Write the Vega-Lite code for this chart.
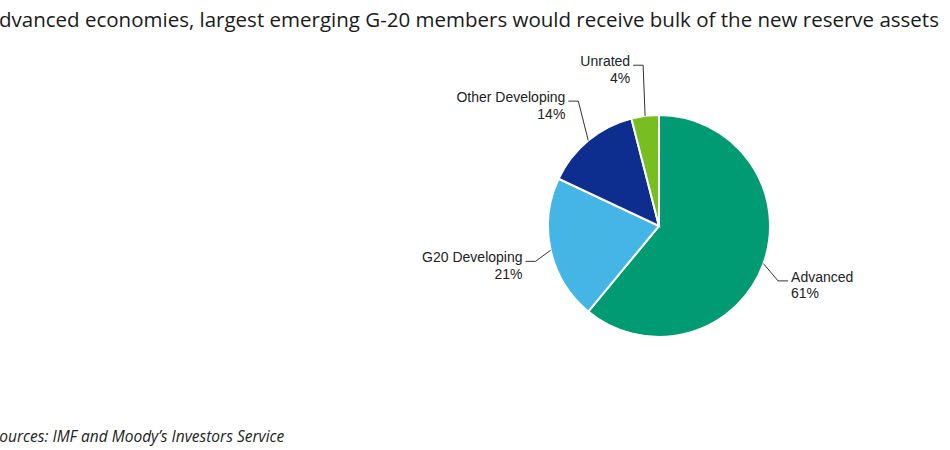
{
  "$schema": "https://vega.github.io/schema/vega-lite/v6.json",
  "width": 582,
  "height": 372,
  "autosize": {"type": "none"},
  "padding": {"left": 368, "top": 40, "right": 0, "bottom": 38},
  "background": "white",
  "title": {
    "text": "Advanced economies, largest emerging G-20 members would receive bulk of the new reserve assets",
    "anchor": "start",
    "frame": "group",
    "dx": -382,
    "offset": -7,
    "baseline": "alphabetic",
    "font": "Open Sans",
    "fontSize": 20.5,
    "fontWeight": 500,
    "color": "#1a1a1a"
  },
  "config": {"view": {"stroke": null}},
  "data": {
    "values": [
      {"category": "Advanced", "value": 61},
      {"category": "G20 Developing", "value": 21},
      {"category": "Other Developing", "value": 14},
      {"category": "Unrated", "value": 4}
    ]
  },
  "transform": [
    {"window": [{"op": "sum", "field": "value", "as": "cum"}], "sort": [{"field": "category", "order": "ascending"}], "frame": [null, 0]},
    {"joinaggregate": [{"op": "sum", "field": "value", "as": "total"}]},
    {"calculate": "2 * PI * (datum.cum - datum.value / 2) / datum.total", "as": "mid"},
    {"calculate": "sin(datum.mid)", "as": "ex"},
    {"calculate": "cos(datum.mid)", "as": "ey"},
    {"calculate": "1.14 * datum.ex", "as": "bx"},
    {"calculate": "1.46 * datum.ey", "as": "by"},
    {"calculate": "datum.bx + (datum.ex > 0 ? 0.09 : -0.09)", "as": "tx"},
    {"calculate": "datum.category + '\\n' + datum.value + '%'", "as": "label"}
  ],
  "layer": [
    {
      "mark": {"type": "arc", "radius": 111, "stroke": "white", "strokeWidth": 2},
      "encoding": {
        "theta": {"field": "value", "type": "quantitative", "stack": true},
        "color": {
          "field": "category",
          "type": "nominal",
          "scale": {
            "domain": ["Advanced", "G20 Developing", "Other Developing", "Unrated"],
            "range": ["#009a73", "#45b5e6", "#0d2d8f", "#78be20"]
          },
          "legend": null
        }
      }
    },
    {
      "mark": {"type": "rule", "color": "#333333", "strokeWidth": 1},
      "encoding": {
        "x": {
          "field": "ex", "type": "quantitative",
          "scale": {"domain": [-2.6216, 2.6216], "nice": false, "zero": false},
          "axis": {
            "title": "Sources: IMF and Moody’s Investors Service",
            "domain": false, "ticks": false, "labels": false, "grid": false,
            "titleX": -377, "titleY": 29, "titleAlign": "left", "titleBaseline": "alphabetic",
            "titleFont": "Open Sans", "titleFontStyle": "italic", "titleFontWeight": "normal",
            "titleFontSize": 15.5, "titleColor": "#222222"
          }
        },
        "y": {
          "field": "ey", "type": "quantitative",
          "scale": {"domain": [-1.6757, 1.6757], "nice": false, "zero": false},
          "axis": null
        },
        "x2": {"field": "bx"},
        "y2": {"field": "by"}
      }
    },
    {
      "mark": {"type": "rule", "color": "#333333", "strokeWidth": 1},
      "encoding": {
        "x": {
          "field": "bx", "type": "quantitative",
          "scale": {"domain": [-2.6216, 2.6216], "nice": false, "zero": false},
          "axis": {
            "title": "Sources: IMF and Moody’s Investors Service",
            "domain": false, "ticks": false, "labels": false, "grid": false,
            "titleX": -377, "titleY": 29, "titleAlign": "left", "titleBaseline": "alphabetic",
            "titleFont": "Open Sans", "titleFontStyle": "italic", "titleFontWeight": "normal",
            "titleFontSize": 15.5, "titleColor": "#222222"
          }
        },
        "y": {
          "field": "by", "type": "quantitative",
          "scale": {"domain": [-1.6757, 1.6757], "nice": false, "zero": false},
          "axis": null
        },
        "x2": {"field": "tx"},
        "y2": {"field": "by"}
      }
    },
    {
      "transform": [{"filter": "datum.ex > 0"}],
      "mark": {"type": "text", "align": "left", "baseline": "alphabetic", "dx": 3, "dy": 1, "lineBreak": "\n", "lineHeight": 16.5, "font": "Liberation Sans", "fontSize": 14, "color": "#222222"},
      "encoding": {
        "x": {
          "field": "tx", "type": "quantitative",
          "scale": {"domain": [-2.6216, 2.6216], "nice": false, "zero": false},
          "axis": {
            "title": "Sources: IMF and Moody’s Investors Service",
            "domain": false, "ticks": false, "labels": false, "grid": false,
            "titleX": -377, "titleY": 29, "titleAlign": "left", "titleBaseline": "alphabetic",
            "titleFont": "Open Sans", "titleFontStyle": "italic", "titleFontWeight": "normal",
            "titleFontSize": 15.5, "titleColor": "#222222"
          }
        },
        "y": {
          "field": "by", "type": "quantitative",
          "scale": {"domain": [-1.6757, 1.6757], "nice": false, "zero": false},
          "axis": null
        },
        "text": {"field": "label"}
      }
    },
    {
      "transform": [{"filter": "datum.ex < 0"}],
      "mark": {"type": "text", "align": "right", "baseline": "alphabetic", "dx": -3, "dy": 1, "lineBreak": "\n", "lineHeight": 16.5, "font": "Liberation Sans", "fontSize": 14, "color": "#222222"},
      "encoding": {
        "x": {
          "field": "tx", "type": "quantitative",
          "scale": {"domain": [-2.6216, 2.6216], "nice": false, "zero": false},
          "axis": {
            "title": "Sources: IMF and Moody’s Investors Service",
            "domain": false, "ticks": false, "labels": false, "grid": false,
            "titleX": -377, "titleY": 29, "titleAlign": "left", "titleBaseline": "alphabetic",
            "titleFont": "Open Sans", "titleFontStyle": "italic", "titleFontWeight": "normal",
            "titleFontSize": 15.5, "titleColor": "#222222"
          }
        },
        "y": {
          "field": "by", "type": "quantitative",
          "scale": {"domain": [-1.6757, 1.6757], "nice": false, "zero": false},
          "axis": null
        },
        "text": {"field": "label"}
      }
    }
  ]
}
